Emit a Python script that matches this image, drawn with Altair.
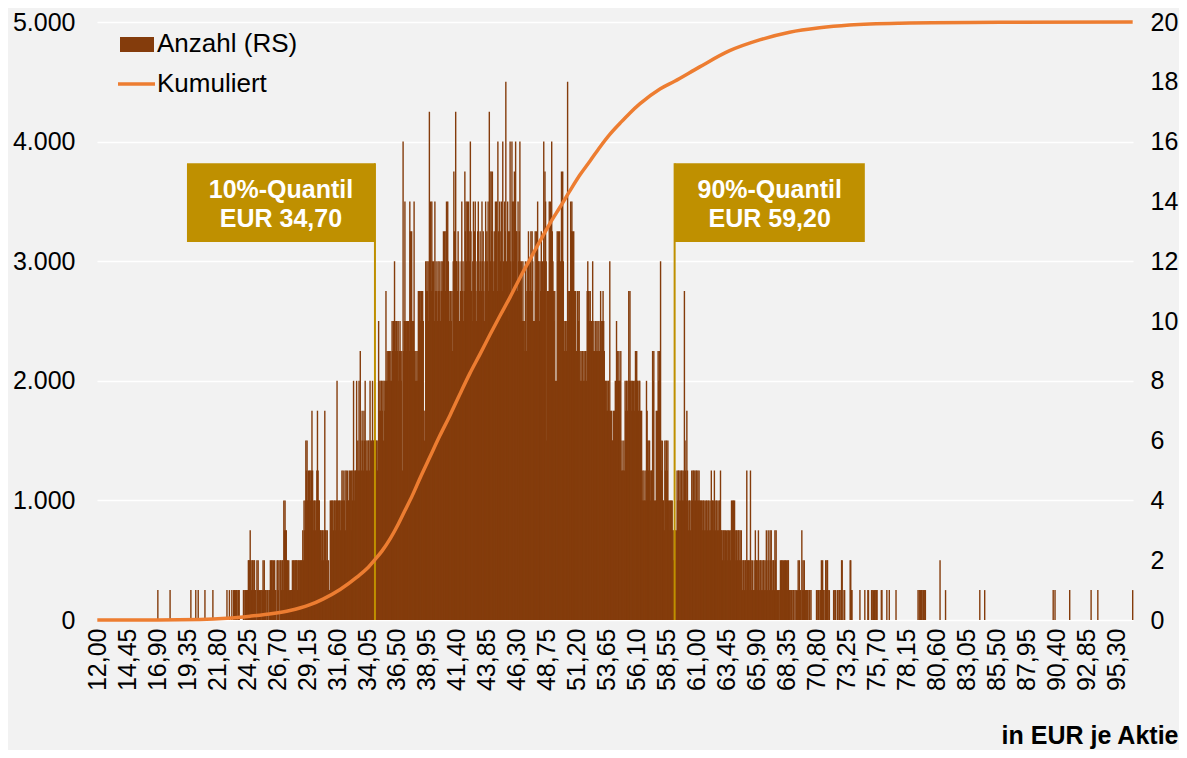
import altair as alt
import pandas as pd

BROWN = "#843C0C"
ORANGE = "#ED7D31"
GOLD = "#BF9000"
BG = "#F2F2F2"
FONT = "Liberation Sans"

# ---------------- Histogram: Anzahl je Klasse (0,05 EUR), rechte Skala ----------------
tail_left_x = [16.95, 17.95, 19.65, 20.05, 20.25, 20.80, 21.45]
tail_left_n = [1, 1, 1, 1, 1, 1, 1]

# one list per tick interval (49 classes), keyed by the first class
seg_21_80 = [0,0,0,0,0,0,0,0,0,0,0,0,0,0,0,0,1,0,0,0,1,0,0,0,1,0,0,1,1,0,1,1,1,0,1,1,1,0,0,0,0,0,0,1,1,0,1,1,1]
seg_24_25 = [1,1,2,2,2,3,2,1,2,2,1,2,2,1,1,0,2,1,2,1,1,0,1,1,0,1,2,1,2,1,1,1,0,1,1,0,1,1,2,1,2,2,1,2,1,2,1,1,0]
seg_26_70 = [2,2,1,2,0,2,2,1,2,2,1,4,3,4,3,3,2,2,1,2,1,0,1,1,1,2,1,2,2,1,2,2,2,1,2,2,1,2,2,1,2,2,3,2,4,3,4,6,5]
seg_29_15 = [6,4,5,4,5,5,4,5,7,5,4,3,4,4,3,4,5,7,5,4,4,3,3,3,2,3,3,2,3,7,3,3,2,3,1,2,1,1,4,3,4,4,4,3,4,4,3,4,4]
seg_31_60 = [8,4,4,3,4,4,3,4,5,4,5,4,4,5,3,5,4,5,4,4,5,4,5,3,5,4,5,8,5,4,5,5,8,5,6,5,8,5,9,6,5,7,6,5,7,6,8,6,5]
seg_34_05 = [6,5,6,6,5,8,6,6,5,8,6,6,5,6,5,6,6,5,6,10,7,8,7,8,8,7,8,6,8,7,8,11,8,9,8,9,7,9,8,9,8,10,9,10,8,12,10,9,10]
seg_36_50 = [10,9,10,8,9,10,9,8,9,5,16,9,10,14,10,9,10,10,9,10,9,14,13,9,13,10,9,10,14,9,8,9,8,9,8,11,10,11,10,11,11,10,11,10,7,6,7,12,11]
seg_38_95 = [12,11,12,10,17,12,14,11,14,12,11,12,10,14,11,12,11,10,12,11,12,11,10,12,11,12,11,13,12,13,11,13,14,13,14,12,11,10,11,11,10,11,9,12,15,13,12,17,12]
seg_41_40 = [12,11,13,12,10,9,11,12,14,11,12,10,11,15,13,14,12,14,11,14,13,12,16,13,11,10,12,14,12,13,14,11,10,12,13,14,12,11,13,12,11,14,12,13,11,10,12,14,12]
seg_43_85 = [13,12,14,11,17,15,12,15,13,15,12,11,13,12,14,12,14,11,16,13,11,14,12,13,14,11,16,12,11,14,13,18,12,11,14,13,10,13,16,12,11,16,14,12,14,15,12,16,13]
seg_46_30 = [13,11,14,12,13,16,12,11,12,10,12,10,9,10,12,11,9,12,11,13,12,11,12,13,11,13,12,10,9,10,13,11,13,12,14,12,12,10,12,11,13,11,12,11,16,12,15,14,12]
seg_48_75 = [6,11,10,11,14,12,14,13,16,13,12,11,10,11,8,7,8,13,12,13,12,13,12,11,15,13,15,12,10,9,10,10,9,10,18,11,10,11,11,14,13,14,13,12,13,11,10,11,9]
seg_51_20 = [9,11,11,10,11,9,8,9,8,9,9,8,9,8,9,9,8,11,12,11,11,10,11,10,10,9,12,9,10,9,9,10,9,10,9,10,9,9,10,11,10,9,10,11,10,9,8,8,7]
seg_53_65 = [8,7,8,8,7,12,7,6,7,6,6,7,6,7,8,7,10,8,9,8,9,8,8,9,5,6,5,5,6,5,8,7,8,8,7,8,11,8,11,8,7,8,8,7,8,7,8,9,8]
seg_56_10 = [9,8,8,7,8,8,7,6,7,4,5,4,5,4,4,5,8,7,6,5,6,6,5,4,5,5,9,8,9,4,3,4,7,6,7,9,8,9,8,12,6,5,6,4,4,3,6,5,6]
seg_58_55 = [6,5,6,4,3,4,4,3,4,4,3,2,3,3,3,2,3,5,4,5,5,4,5,4,5,5,4,5,4,11,6,5,4,7,5,4,3,4,4,3,4,5,4,5,5,4,5,4,5]
seg_61_00 = [5,4,5,4,5,4,4,3,4,4,3,4,4,3,4,3,4,4,3,4,4,3,4,3,5,4,4,3,4,5,4,3,4,4,3,4,3,4,4,5,3,3,2,3,3,2,3,3,2]
seg_63_45 = [3,2,3,3,2,3,2,3,4,3,4,4,3,4,3,2,3,3,2,3,3,2,3,2,3,2,1,2,2,1,2,2,1,5,2,1,2,2,1,5,2,1,2,1,1,2,1,3,2]
seg_65_90 = [2,1,2,3,2,1,2,2,1,2,1,2,2,1,2,1,3,2,1,3,2,1,3,2,3,2,1,2,2,1,3,2,3,1,1,0,1,1,0,2,1,2,2,1,2,1,2,2,1]
seg_68_35 = [2,1,2,2,1,1,1,0,1,1,0,1,1,0,1,0,1,0,1,2,1,2,1,1,0,3,1,2,1,2,1,1,0,1,1,1,0,1,1,0,1,0,0,0,0,0,0,0,0]
seg_70_80 = [1,1,0,1,1,0,1,1,2,1,2,1,1,0,1,2,1,2,2,1,0,1,0,0,0,0,0,0,1,0,1,1,0,0,1,1,0,1,1,0,1,2,2,0,0,1,1,0,0]
seg_73_25 = [0,0,0,0,0,0,2,2,1,1,0,0,0,0,0,0,0,0,0,0,0,0,1,0,0,0,0,0,0,0,1,0,0,0,0,1,1,0,0,0,0,1,1,0,1,0,1,1,0]

segments = [
    (21.80, seg_21_80), (24.25, seg_24_25), (26.70, seg_26_70), (29.15, seg_29_15),
    (31.60, seg_31_60), (34.05, seg_34_05), (36.50, seg_36_50), (38.95, seg_38_95),
    (41.40, seg_41_40), (43.85, seg_43_85), (46.30, seg_46_30), (48.75, seg_48_75),
    (51.20, seg_51_20), (53.65, seg_53_65), (56.10, seg_56_10), (58.55, seg_58_55),
    (61.00, seg_61_00), (63.45, seg_63_45), (65.90, seg_65_90), (68.35, seg_68_35),
    (70.80, seg_70_80), (73.25, seg_73_25),
]

tail_right_x = [75.70, 75.75, 76.10, 76.15, 76.55, 76.75, 77.30, 79.10, 79.20, 79.30, 79.35,
                79.40, 79.50, 79.55, 79.65, 79.70, 80.90, 81.35, 84.15, 84.55, 90.15, 90.30,
                91.50, 93.25, 93.80, 96.65]
tail_right_n = [1, 1, 1, 1, 1, 1, 1, 1, 1, 1, 1, 1, 1, 1, 1, 1, 2, 1, 1, 1, 1, 1, 1, 1, 1, 1]

# ---------------- Kumuliert (linke Skala) ----------------
cum_x = [12.00, 16.90, 20.40, 22.60, 24.50, 26.35, 27.75, 28.55, 29.40, 30.45, 31.85, 33.25,
         34.05, 34.70, 35.30, 35.95, 36.60, 37.15, 37.75, 38.40, 39.20, 40.00, 40.85, 41.65,
         42.45, 43.30, 44.10, 44.90, 45.75, 46.55, 47.40, 48.20, 49.00, 49.85, 50.65, 51.45,
         52.30, 53.10, 53.90, 54.75, 55.55, 56.35, 58.00, 59.20, 61.25, 63.70, 66.15, 68.60,
         71.05, 73.50, 77.60, 85.80, 96.65]
cum_y = [0, 1, 4, 14, 32, 55, 80, 100, 128, 175, 255, 360,
         430, 505, 580, 680, 800, 915, 1040, 1190, 1365, 1540, 1715, 1890,
         2060, 2225, 2385, 2540, 2700, 2860, 3020, 3170, 3315, 3455, 3590, 3720,
         3840, 3955, 4060, 4155, 4240, 4315, 4440, 4505, 4625, 4760, 4850, 4915,
         4952, 4975, 4990, 4998, 5000]

# ---------------- Quantile annotations ----------------
q_values = [34.70, 59.20]
q_line1 = ["10%-Quantil", "90%-Quantil"]
q_line2 = ["EUR 34,70", "EUR 59,20"]
box_left = [19.33, 59.20]
box_right = [34.70, 74.75]

x_ticks = [12.00, 14.45, 16.90, 19.35, 21.80, 24.25, 26.70, 29.15, 31.60, 34.05, 36.50, 38.95,
           41.40, 43.85, 46.30, 48.75, 51.20, 53.65, 56.10, 58.55, 61.00, 63.45, 65.90, 68.35,
           70.80, 73.25, 75.70, 78.15, 80.60, 83.05, 85.50, 87.95, 90.40, 92.85, 95.30]
left_ticks = [0, 1000, 2000, 3000, 4000, 5000]
right_ticks = [0, 2, 4, 6, 8, 10, 12, 14, 16, 18, 20]

# ---------------- build tables ----------------
rows_v, rows_n = list(tail_left_x), list(tail_left_n)
for start, vals in segments:
    assert len(vals) == 49, (start, len(vals))
    for j, n in enumerate(vals):
        rows_v.append(round(start + 0.05 * j, 2))
        rows_n.append(n)
rows_v += tail_right_x
rows_n += tail_right_n
assert len(cum_x) == len(cum_y)
hist_df = pd.DataFrame({"v": rows_v, "n": rows_n})
cum_df = pd.DataFrame({"v": cum_x, "cum": cum_y})

BOX_TOP, BOX_BOTTOM = 3820, 3160
q_df = pd.DataFrame({
    "q": q_values, "bl": box_left, "br": box_right,
    "xc": [(a + b) / 2 for a, b in zip(box_left, box_right)],
    "y0": [0, 0], "bt": [BOX_TOP, BOX_TOP], "bb": [BOX_BOTTOM, BOX_BOTTOM],
    "t1y": [3528, 3528], "t2y": [3286, 3286],
    "l1": q_line1, "l2": q_line2,
})

xs = alt.Scale(domain=[11.975, 96.675], nice=False, zero=False)
xaxis = alt.Axis(
    values=x_ticks,
    labelExpr="replace(format(datum.value, '.2f'), '.', ',')",
    labelAngle=-90, labelFontSize=25, labelColor="#000000", labelPadding=8,
    labelOverlap=False, labelFont=FONT, ticks=False, domain=False, grid=False,
    title="in EUR je Aktie", titleX=1081, titleY=123, titleAlign="right",
    titleBaseline="alphabetic", titleFontSize=25, titleFontWeight="bold",
    titleColor="#000000", titleFont=FONT,
)
cum_scale = alt.Scale(domain=[0, 5000], nice=False)

bars = alt.Chart(hist_df).transform_filter("datum.n > 0").mark_rule(
    color=BROWN, strokeWidth=1.4
).encode(
    x=alt.X("v:Q", scale=xs, axis=xaxis),
    y=alt.Y("n:Q", scale=alt.Scale(domain=[0, 20], nice=False),
            axis=alt.Axis(orient="right", values=right_ticks, grid=False, domain=False,
                          ticks=False, labelFontSize=25, labelColor="#000000",
                          labelPadding=17, labelFont=FONT, title=None)),
    y2=alt.datum(0),
)

gold_lines = alt.Chart(q_df).mark_rule(color=GOLD, strokeWidth=2).encode(
    x=alt.X("q:Q", scale=xs, axis=xaxis),
    y=alt.Y("y0:Q", scale=cum_scale, axis=None),
    y2="bt:Q",
)
boxes = alt.Chart(q_df).mark_rect(color=GOLD).encode(
    x=alt.X("bl:Q", scale=xs, axis=xaxis), x2="br:Q",
    y=alt.Y("bb:Q", scale=cum_scale, axis=None), y2="bt:Q",
)
txt1 = alt.Chart(q_df).mark_text(
    color="#FFFFFF", fontSize=25, fontWeight="bold", font=FONT, align="center", baseline="alphabetic"
).encode(
    x=alt.X("xc:Q", scale=xs, axis=xaxis),
    y=alt.Y("t1y:Q", scale=cum_scale, axis=None), text="l1:N",
)
txt2 = alt.Chart(q_df).mark_text(
    color="#FFFFFF", fontSize=25, fontWeight="bold", font=FONT, align="center", baseline="alphabetic"
).encode(
    x=alt.X("xc:Q", scale=xs, axis=xaxis),
    y=alt.Y("t2y:Q", scale=cum_scale, axis=None), text="l2:N",
)

curve = alt.Chart(cum_df).mark_line(
    color=ORANGE, strokeWidth=3.5, interpolate="monotone"
).encode(
    x=alt.X("v:Q", scale=xs, axis=xaxis),
    y=alt.Y("cum:Q", scale=cum_scale,
            axis=alt.Axis(orient="left", values=left_ticks,
                          labelExpr="replace(format(datum.value, ',.0f'), ',', '.')",
                          grid=True, gridColor="#FFFFFF", gridWidth=1.3, domain=False,
                          ticks=False, labelFontSize=25, labelColor="#000000",
                          labelPadding=22, labelFont=FONT, title=None)),
)

one = pd.DataFrame({"k": [0]})
leg_sq = alt.Chart(one).mark_rect(color=BROWN).encode(
    x=alt.value(23), x2=alt.value(57), y=alt.value(15), y2=alt.value(30))
leg_ln = alt.Chart(one).mark_rule(color=ORANGE, strokeWidth=3.5).encode(
    x=alt.value(21), x2=alt.value(58), y=alt.value(62))
leg_t1 = alt.Chart(one).mark_text(
    text="Anzahl (RS)", align="left", baseline="middle", fontSize=26, font=FONT, color="#000000"
).encode(x=alt.value(60), y=alt.value(22))
leg_t2 = alt.Chart(one).mark_text(
    text="Kumuliert", align="left", baseline="middle", fontSize=26, font=FONT, color="#000000"
).encode(x=alt.value(60), y=alt.value(62))

chart = alt.layer(
    bars, gold_lines, boxes, txt1, txt2, curve, leg_sq, leg_ln, leg_t1, leg_t2
).resolve_scale(y="independent").properties(
    width=1036, height=598,
    padding={"left": 89, "top": 14, "right": 46, "bottom": 130},
    autosize=alt.AutoSizeParams(type="none"),
).configure(
    font=FONT, background=BG
).configure_view(stroke=BG, fill=BG)

chart.save("out.html", embed_options={"renderer": "svg", "actions": False})
